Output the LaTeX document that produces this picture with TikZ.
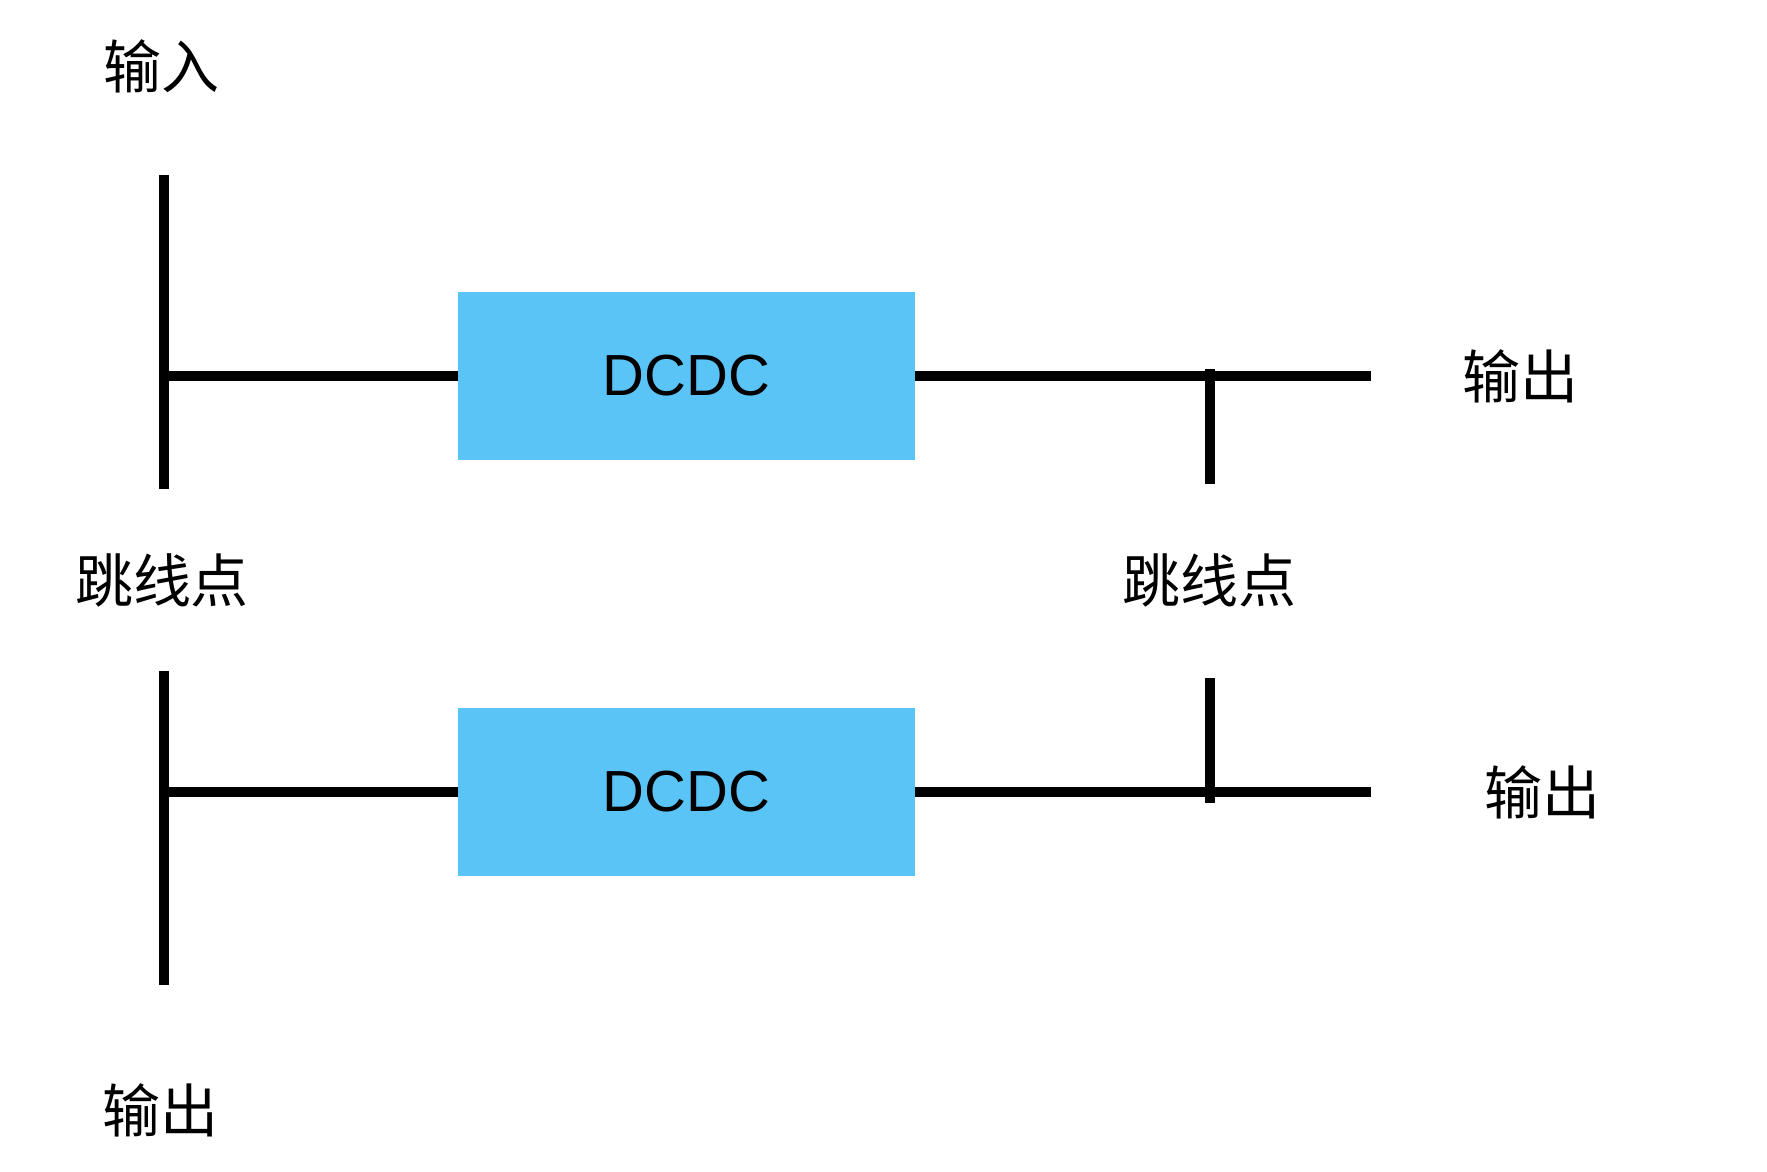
\documentclass[tikz,border=0pt]{standalone}
\usepackage{fontspec}
\setmainfont{Liberation Sans}
\newfontfamily\cjk{Noto Sans CJK SC}
\usetikzlibrary{positioning}
\definecolor{blue1}{RGB}{91,196,247}

\begin{document}
\begin{tikzpicture}[x=0.02cm,y=-0.02cm,line width=0.2cm]
  \tikzstyle{conv}=[rectangle,fill=blue1,draw=none,outer sep=0pt,minimum width=9.14cm,minimum height=3.36cm,font=\fontsize{33}{40}\selectfont]
  \tikzstyle{tag}=[font=\cjk\fontsize{33}{40}\selectfont]
  \useasboundingbox (0,0) rectangle (1767,1171);
  % upper converter
  \node[tag]           (in)   at (161.5,66)    {输入};
  \coordinate          (busAT) at (164,175);
  \coordinate          (busAB) at (164,489);
  \coordinate          (busA)  at (164,376);
  \node[conv]          (dc1)  at (686.5,376)   {DCDC};
  \coordinate          (endA)  at (1371,376);
  \coordinate          (jpAT)  at (1210,369);
  \coordinate          (jpAB)  at (1210,484);
  \node[tag]           (outA) at (1520,376.5)  {输出};
  % jumper labels
  \node[tag]           (jpL)  at (162,580)     {跳线点};
  \node[tag]           (jpR)  at (1209,580)    {跳线点};
  % lower converter
  \coordinate          (busBT) at (164,671);
  \coordinate          (busBB) at (164,985);
  \coordinate          (busB)  at (164,792);
  \node[conv]          (dc2)  at (686.5,792)   {DCDC};
  \coordinate          (endB)  at (1371,792);
  \coordinate          (jpBT)  at (1210,678);
  \coordinate          (jpBB)  at (1210,803);
  \node[tag]           (outB) at (1542,792)    {输出};
  \node[tag]           (outC) at (160.5,1110)  {输出};
  \draw (busAT) -- (busAB);
  \draw (busA) -- (dc1);
  \draw (dc1) -- (endA);
  \draw (jpAT) -- (jpAB);
  \draw (busBT) -- (busBB);
  \draw (busB) -- (dc2);
  \draw (dc2) -- (endB);
  \draw (jpBT) -- (jpBB);
\end{tikzpicture}
\end{document}
